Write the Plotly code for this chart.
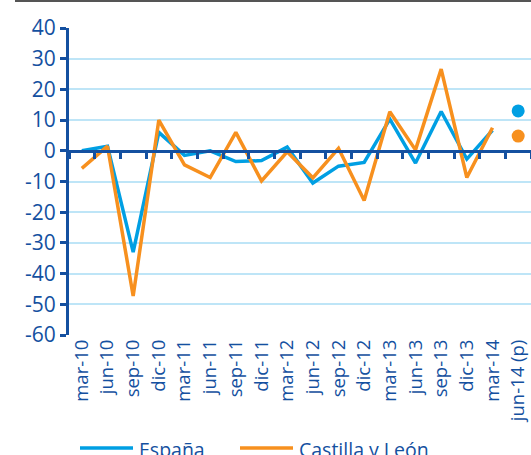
import plotly.graph_objects as go

categories = ["mar-10", "jun-10", "sep-10", "dic-10", "mar-11", "jun-11", "sep-11", "dic-11",
              "mar-12", "jun-12", "sep-12", "dic-12", "mar-13", "jun-13", "sep-13", "dic-13",
              "mar-14", "jun-14 (p)"]
espana = [0, 1.5, -33, 6, -1.5, 0, -3.5, -3.2, 1.2, -10.5, -5, -3.8, 10.3, -4, 12.8, -2.7, 6.7]
castilla = [-5.7, 1.5, -47.3, 10, -4.6, -8.7, 6, -9.8, -0.3, -8.8, 0.8, -16.2, 12.7, 0.3, 26.6, -8.7, 7.5]
espana_prev = [13]
castilla_prev = [4.8]
y_ticks = [40, 30, 20, 10, 0, -10, -20, -30, -40, -50, -60]
y_ticklabels = ["40", "30", "20", "10", "0", "-10", "-20", "-30", "-40", "-50", "-60"]
series_names = ["España", "Castilla y León"]

BLUE = "#009FE3"
ORANGE = "#F7901E"
DARK = "#1450A0"
GRID = "#BEE5F7"
FONT = "Open Sans"

W, H = 531, 455
ML, MR, MT, MB = 69, 0, 28, 120
PW, PH = W - ML - MR, H - MT - MB


def px_x(px):
    return (px - ML) / PW


def px_y(py):
    return (H - MB - py) / PH


fig = go.Figure()
fig.add_trace(go.Scatter(x=categories[:len(espana)], y=espana, mode="lines", name=series_names[0],
                         line=dict(color=BLUE, width=3.5)))
fig.add_trace(go.Scatter(x=categories[:len(castilla)], y=castilla, mode="lines", name=series_names[1],
                         line=dict(color=ORANGE, width=3.5)))
fig.add_trace(go.Scatter(x=categories[-1:], y=espana_prev, mode="markers", showlegend=False,
                         marker=dict(color=BLUE, size=13)))
fig.add_trace(go.Scatter(x=categories[-1:], y=castilla_prev, mode="markers", showlegend=False,
                         marker=dict(color=ORANGE, size=13)))
fig.add_trace(go.Scatter(x=categories, y=[None]*len(categories), xaxis="x2", showlegend=False,
                         hoverinfo="skip"))

fig.update_layout(
    width=W, height=H,
    margin=dict(l=ML, r=MR, t=MT, b=MB, autoexpand=False),
    paper_bgcolor="white", plot_bgcolor="white",
    font=dict(family=FONT, color=DARK, size=18),
    showlegend=False,
    xaxis=dict(type="category", categoryorder="array", categoryarray=categories,
               range=[-0.5, len(categories) - 0.5], automargin=False,
               showline=False, showgrid=False, ticks="", tickangle=-90,
               tickfont=dict(size=18.5, color=DARK, family=FONT)),
    xaxis2=dict(type="category", categoryorder="array", categoryarray=categories,
                range=[-0.5, len(categories) - 0.5], overlaying="x", anchor="free",
                position=0.6, side="bottom", showline=True, linecolor=DARK, linewidth=3,
                ticks="outside", tickson="boundaries", ticklen=6, tickwidth=3, tickcolor=DARK,
                showticklabels=False, showgrid=False, zeroline=False, automargin=False),
    yaxis=dict(range=[-60, 40], tickmode="array", tickvals=y_ticks, ticktext=y_ticklabels,
               showgrid=True, gridcolor=GRID, gridwidth=2, automargin=False,
               zeroline=False, showline=True, linecolor=DARK, linewidth=3,
               ticks="outside", ticklen=6, tickwidth=3, tickcolor=DARK,
               tickfont=dict(size=21, color=DARK, family=FONT)),
)

# top frame line
fig.add_shape(type="line", xref="paper", yref="paper", x0=px_x(15), x1=px_x(W), y0=px_y(1), y1=px_y(1),
              line=dict(color="#555555", width=2))

# manual legend
legend_items = [(series_names[0], BLUE, 80, 133), (series_names[1], ORANGE, 240, 293)]
for name, color, xa, xb in legend_items:
    fig.add_shape(type="line", xref="paper", yref="paper", x0=px_x(xa), x1=px_x(xb),
                  y0=px_y(448), y1=px_y(448), line=dict(color=color, width=3.5))
    fig.add_annotation(xref="paper", yref="paper", x=px_x(xb + 4), y=px_y(449), text=name,
                       showarrow=False, xanchor="left", yanchor="middle",
                       font=dict(size=19.5, color=DARK, family=FONT))

fig.write_html("out.html", config={"displayModeBar": False},
               post_script="document.body.style.margin='0';document.body.style.overflow='hidden';")
